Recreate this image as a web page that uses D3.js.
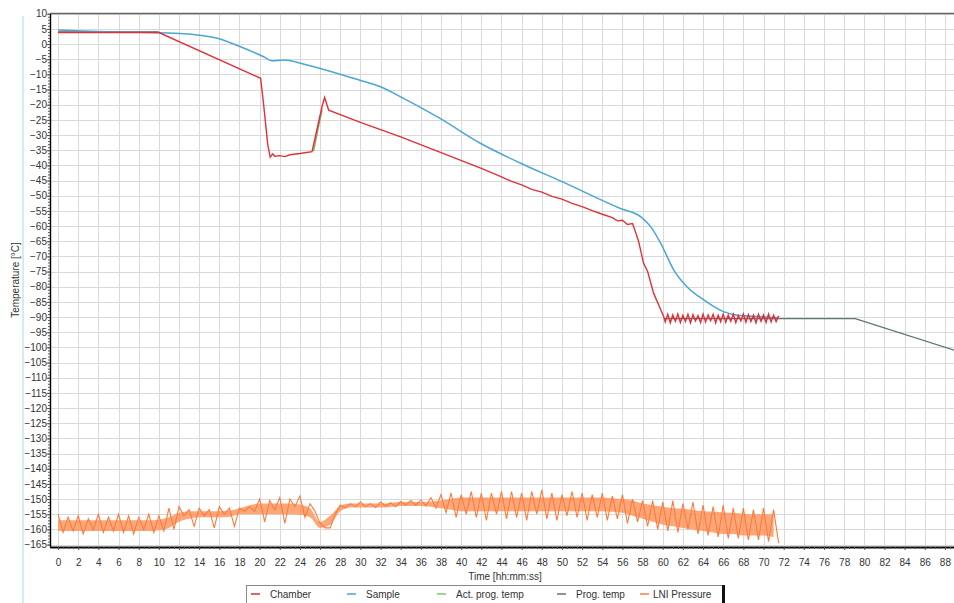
<!DOCTYPE html>
<html>
<head>
<meta charset="utf-8">
<script src="https://cdn.jsdelivr.net/npm/d3@7"></script>
<style>
body { margin: 0; background: #fff; }
svg { display: block; font-family: "Liberation Sans", Arial, sans-serif; }
</style>
</head>
<body>
<svg id="chart" width="954" height="603"></svg>
<script>
// values: [time h, temperature °C]
var chamber = [[0,3.8],[10,3.8],[20.1,-11.3],[20.4,-20],[20.8,-33],[21.05,-37.3],[21.3,-36.2],[21.5,-37],[22,-36.8],[22.5,-37.1],[23,-36.5],[24,-36.1],[25.2,-35.5],[25.7,-28],[26.2,-20.5],[26.45,-17.6],[26.85,-21.8],[30,-25.8],[34,-30.6],[38,-35.8],[42,-41],
  [44,-43.8],[45,-45.3],[46,-46.4],[47,-47.9],[48,-48.8],[49,-50.2],[50,-51.1],[51,-52.5],[52,-53.6],[53,-54.9],[54,-56.1],[55,-57.2],[55.5,-58.3],[56,-58.1],[56.5,-59.5],[57,-59.2],[57.3,-62],[57.6,-65],[58.1,-72.3],[58.5,-75],[59.1,-82.2],[59.6,-86],[60.1,-89.9],
  [60.25,-91.6],[60.5,-89.1],[60.75,-91.9],[61,-89.3],[61.25,-91.4],[61.5,-89],[61.75,-91.8],[62,-89.4],[62.25,-91.5],[62.5,-89.1],[62.75,-91.9],[63,-89.2],[63.25,-91.3],[63.5,-89.5],[63.75,-91.8],[64,-89],[64.25,-91.6],[64.5,-89.3],[64.75,-91.2],[65,-89.1],[65.25,-91.9],[65.5,-89.4],[65.75,-91.5],[66,-89],[66.25,-91.7],[66.5,-89.3],[66.75,-91.4],[67,-89.1],[67.25,-91.8],[67.5,-89.5],[67.75,-91.3],[68,-89],[68.25,-91.7],[68.5,-89.2],[68.75,-91.5],[69,-89.4],[69.25,-91.9],[69.5,-89.1],[69.75,-91.4],[70,-89.3],[70.25,-91.8],[70.5,-89],[70.75,-91.6],[71,-89.4],[71.25,-91.5],[71.5,-89.6]];

var sample = [[0,4.6],[4,4.1],[8.1,3.9],[12.1,3.5],[15.8,1.9],[18.1,-0.9],[20.4,-4.2],[21.2,-5.5],[22.4,-5.3],[24.7,-6.9],[29.3,-11.3],[32,-14.1],[34,-17.4],[37.9,-24.5],[41.9,-32.7],[45.9,-39.3],[49.9,-45.2],[55.8,-54.2],[57.8,-56.9],[58.8,-60.2],[59.8,-65.7],[61.1,-74.5],[62.4,-80],[64.1,-84.4],[66.1,-88.3],[67.4,-89.4],[69.7,-89.9],[71.5,-90.3]];

var actProg = [[25.35,-35.3],[26.2,-21.5]];

var progTemp = [[0,4],[10,4],null,[60.1,-90.5],[79.1,-90.5],[89,-101]];

// LN2 pressure trace, one reading every 0.5 h from t = 0
var pressStep = 0.5;
var pressure = [
  -155,-161,-156,-160.5,-155.5,-161.5,-156.5,-160,-155,-161,
  -156,-160.5,-155,-161,-155.5,-161.5,-156,-160,-155,-161,
  -155.5,-160.5,-153,-160,-152.5,-155.5,-153.5,-159,-153,-155.5,
  -153.5,-159.5,-152.5,-155,-153,-159,-153,-154,-152.5,-154,
  -150,-157.5,-150.5,-153.5,-149.5,-158,-150,-152.5,-149,-156,
  -151.5,-154,-158,-159.5,-159.5,-155,-152,-153,-151.5,-152.5,
  -151,-152.5,-151.5,-152.8,-151,-152.2,-151.2,-152.5,-150.8,-152,
  -150.5,-152,-150.3,-152.3,-149.5,-153,-148.5,-154.5,-148,-156,
  -148.5,-155,-147.5,-156,-148,-157,-148,-155,-147.5,-156.5,
  -147.5,-156,-148,-157,-147.5,-155,-147,-156.5,-148,-157,
  -148.5,-155.5,-147.5,-156,-148,-157,-148.5,-156,-148,-157,
  -149,-156.5,-148.5,-158,-150,-157.5,-150.5,-159,-150.5,-160,
  -151,-160.5,-150.5,-161,-151.5,-160,-151,-161.5,-152,-162,
  -152.5,-162.5,-152,-163,-153,-163,-153,-163.5,-153.5,-163.5,
  -153,-164,-153.5,-164.5];

// dense core of the pressure band, one pair per hour from t = 0
var pressCoreHi = [-157,-157,-157,-157,-157,-157,-157,-157,-157,-157,-156.8,-156,-154.5,-154,-154,-154,-154,-153.8,-153,-152,
  -151.5,-151.5,-151.5,-151.5,-151.8,-153,-157.5,-155.5,-152.3,-151.5,-151.5,-151.5,-151.5,-151.3,-151,-151,-151,-150.8,-150.5,-150,
  -149.5,-149.5,-149.5,-149.5,-149.5,-149.5,-149.5,-149.5,-149.5,-149.5,-149.5,-149.5,-149.5,-149.5,-149.5,-149.8,-150,-150.5,-151.5,-152,
  -152.5,-153,-153.2,-153.6,-154,-154.2,-154.4,-154.6,-154.8,-155,-155,-155];
var pressCoreLo = [-160.5,-160.5,-160.5,-160.5,-160.5,-160.5,-160.5,-160.5,-160.5,-160.5,-160.3,-159.5,-157.5,-156.5,-156,-156,-156,-155.8,-155,-155,
  -155,-155,-155,-155,-155.2,-156,-159.5,-158.5,-154,-152.8,-152.8,-152.8,-152.8,-152.6,-152.3,-152.3,-152.3,-152.5,-153,-153.5,
  -154,-154,-154,-154,-154,-154,-154,-154,-154,-154,-154,-154,-154,-154,-154,-154.2,-154.5,-155.5,-156.5,-157.5,
  -158.5,-159,-159.5,-160,-160.5,-161,-161.5,-161.5,-162,-162,-162,-162.5];

var xTicks = d3.range(0, 89, 2);
var yTicks = d3.range(10, -166, -5);

var legendNames = ["Chamber", "Sample", "Act. prog. temp", "Prog. temp", "LNI Pressure"];
var legendColors = ["#e0303a", "#4aa6d4", "#78c86a", "#5f7474", "#ff7f3f"];

var svg = d3.select("#chart");

var x = d3.scaleLinear().domain([-0.8, 88.9]).range([50, 954]);
var y = d3.scaleLinear().domain([-165.8, 10]).range([547, 13.7]);

// faint frame line on the far left
svg.append("line").attr("x1", 23).attr("x2", 23).attr("y1", 16).attr("y2", 603)
  .attr("stroke", "#cfeef3").attr("stroke-width", 2);

// grid
var grid = svg.append("g").attr("stroke", "#d9d9d9").attr("stroke-width", 1);
grid.selectAll(".vg").data(xTicks).enter().append("line")
  .attr("x1", d => Math.round(x(d)) + 0.5).attr("x2", d => Math.round(x(d)) + 0.5)
  .attr("y1", y(10)).attr("y2", 547);
grid.selectAll(".hg").data(yTicks).enter().append("line")
  .attr("y1", d => Math.round(y(d)) + 0.5).attr("y2", d => Math.round(y(d)) + 0.5)
  .attr("x1", 50).attr("x2", 954);

// top border
svg.append("line").attr("x1", 50).attr("x2", 954).attr("y1", 13.5).attr("y2", 13.5)
  .attr("stroke", "#666").attr("stroke-width", 1.5);

var lineGen = d3.line().defined(d => d != null).x(d => x(d[0])).y(d => y(d[1]));

var plot = svg.append("g");

plot.append("path").datum(pressCoreHi)
  .attr("fill", "#ff8a4c").attr("fill-opacity", 0.75)
  .attr("d", d3.area().curve(d3.curveMonotoneX)
    .x((d, i) => x(i)).y0((d, i) => y(pressCoreLo[i])).y1(d => y(d)));

plot.append("path").datum(pressure)
  .attr("fill", "none").attr("stroke", "#ff7a3a").attr("stroke-width", 1.1)
  .attr("d", d3.line().x((d, i) => x(i * pressStep)).y(d => y(d)));

plot.append("path").datum(progTemp)
  .attr("fill", "none").attr("stroke", "#5f7474").attr("stroke-width", 1.3).attr("d", lineGen);
plot.append("path").datum(actProg)
  .attr("fill", "none").attr("stroke", "#78a84a").attr("stroke-width", 1.3).attr("d", lineGen);
plot.append("path").datum(sample)
  .attr("fill", "none").attr("stroke", "#4aa6d4").attr("stroke-width", 1.5)
  .attr("d", d3.line().curve(d3.curveMonotoneX).x(d => x(d[0])).y(d => y(d[1])));
plot.append("path").datum(chamber)
  .attr("fill", "none").attr("stroke", "#e0303a").attr("stroke-width", 1.4).attr("d", lineGen);

// axes
var yAxis = svg.append("g").attr("transform", "translate(50,0)")
  .call(d3.axisLeft(y).tickValues(yTicks).tickSize(3).tickSizeOuter(0).tickFormat(d3.format("d")));
svg.append("g").attr("transform", "translate(50,0)")
  .call(d3.axisLeft(y).tickValues(d3.range(10, -166, -1)).tickSize(2).tickSizeOuter(0).tickFormat(""));
yAxis.selectAll("text").attr("font-size", 10).attr("fill", "#333").attr("x", -3);
yAxis.select(".domain").attr("stroke", "#333").attr("stroke-width", 1.5);

var xAxis = svg.append("g").attr("transform", "translate(0,547)")
  .call(d3.axisBottom(x).tickValues(xTicks).tickSize(3).tickSizeOuter(0));
svg.append("g").attr("transform", "translate(0,547)")
  .call(d3.axisBottom(x).tickValues(d3.range(0, 89, 0.5)).tickSize(2).tickSizeOuter(0).tickFormat(""));
xAxis.selectAll("text").attr("font-size", 10).attr("fill", "#333").attr("dy", "1.3em");
xAxis.select(".domain").attr("stroke", "#111").attr("stroke-width", 2.2);
svg.selectAll(".tick line").attr("stroke", "#555");

// axis titles
svg.append("text").attr("transform", "translate(19,280) rotate(-90)")
  .attr("text-anchor", "middle").attr("font-size", 10).attr("fill", "#333")
  .text("Temperature  [°C]");
svg.append("text").attr("x", 505).attr("y", 580)
  .attr("text-anchor", "middle").attr("font-size", 10).attr("fill", "#333")
  .text("Time  [hh:mm:ss]");

// legend
var lg = svg.append("g");
lg.append("rect").attr("x", 246.5).attr("y", 585.5).attr("width", 477).attr("height", 25)
  .attr("fill", "#fff").attr("stroke", "#888");
lg.append("line").attr("x1", 723.5).attr("x2", 723.5).attr("y1", 585).attr("y2", 603)
  .attr("stroke", "#111").attr("stroke-width", 3);
var legendX = [251, 347, 437, 557, 640];
var item = lg.selectAll(".legend").data(legendNames).enter().append("g")
  .attr("class", "legend")
  .attr("transform", (d, i) => "translate(" + legendX[i] + ",594)");
item.append("line").attr("x1", 0).attr("x2", 9).attr("y1", 0).attr("y2", 0)
  .attr("stroke", (d, i) => legendColors[i]).attr("stroke-width", 1.5);
item.append("text").attr("x", (d, i) => i == 4 ? 13 : 19).attr("y", 3.5)
  .attr("font-size", 10).attr("fill", "#333").text(d => d);
</script>
</body>
</html>
